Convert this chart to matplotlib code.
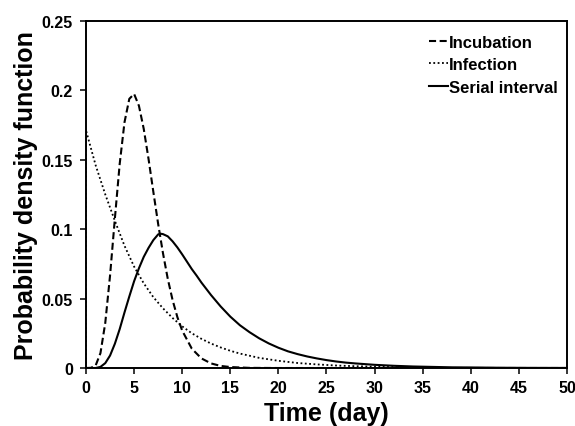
import matplotlib
matplotlib.use('Agg')
import matplotlib.pyplot as plt

plt.rcParams['font.family'] = ['Liberation Sans', 'DejaVu Sans']
plt.rcParams['font.weight'] = 'bold'

# values
incub_x = [0, 0.5, 1.0, 1.5, 2.0, 2.5, 3.0, 3.5, 4.0, 4.5, 5.0, 5.5, 6.0, 6.5, 7.0,
           7.5, 8.0, 8.5, 9.0, 9.5, 10, 11, 12, 13, 14, 15, 17, 20, 50]
incub_y = [0, 0.0001, 0.0018, 0.0107, 0.0324, 0.0667, 0.1077, 0.1469, 0.1769, 0.1938,
           0.1973, 0.1888, 0.1722, 0.1505, 0.1268, 0.1037, 0.0827, 0.0642, 0.0489,
           0.0366, 0.0269, 0.0139, 0.0069, 0.0033, 0.0015, 0.0007, 0.0001, 0, 0]

infect_x = [0, 0, 1, 2, 3, 4, 5, 6, 7, 8, 9, 10, 11, 12, 13, 14, 15, 16, 18, 20, 22,
            24, 26, 28, 30, 33]
infect_y = [0, 0.171, 0.146, 0.125, 0.106, 0.088, 0.073, 0.061, 0.051, 0.043, 0.036,
            0.030, 0.025, 0.021, 0.0176, 0.0148, 0.0124, 0.0104, 0.0073, 0.0052, 0.0036,
            0.0026, 0.0018, 0.0013, 0.0009, 0.0005]

serial_x = [0, 1.0, 1.5, 2.0, 2.5, 3.0, 3.5, 4.0, 4.5, 5.0, 5.5, 6.0, 6.5, 7.0, 7.5,
            7.75, 8.0, 8.5, 9.0, 9.5, 10, 10.5, 11, 11.5, 12, 13, 14, 15, 16, 17, 18,
            19, 20, 21, 22, 23, 24, 25, 26, 27, 28, 30, 32, 34, 36, 38, 40, 43, 46, 50]
serial_y = [0, 0, 0.0008, 0.0035, 0.009, 0.0175, 0.028, 0.040, 0.0515, 0.0625, 0.0718,
            0.0800, 0.0865, 0.0921, 0.0962, 0.0967, 0.0964, 0.0948, 0.0912, 0.0868,
            0.0818, 0.0765, 0.0712, 0.0665, 0.0615, 0.0525, 0.0443, 0.0370, 0.0308,
            0.0258, 0.0214, 0.0177, 0.0146, 0.0120, 0.0100, 0.0083, 0.0069, 0.0057,
            0.0047, 0.0039, 0.0033, 0.0023, 0.0016, 0.0011, 0.0008, 0.0005, 0.0004,
            0.0002, 0.0001, 0.00005]

fig = plt.figure(figsize=(5.75, 4.27), dpi=100)
ax = fig.add_axes([0.1496, 0.1358, 0.8364, 0.8132])

ax.plot(incub_x, incub_y, color='black', lw=1.5, ls=(0, (3.4, 1.7)), label='Incubation')
ax.plot(infect_x, infect_y, color='black', lw=1.3, ls=(0, (1, 1.4)), label='Infection')
ax.plot(serial_x, serial_y, color='black', lw=1.5, ls='-', label='Serial interval')

ax.set_xlim(0, 50)
ax.set_ylim(0, 0.25)
ax.set_xticks([0, 5, 10, 15, 20, 25, 30, 35, 40, 45, 50])
ax.set_yticks([0, 0.05, 0.1, 0.15, 0.2, 0.25])
ax.set_yticklabels(['0', '0.05', '0.1', '0.15', '0.2', '0.25'])
ax.tick_params(direction='out', length=4.3, width=1.1, labelsize=11.5)
ax.tick_params(axis='y', pad=5)
ax.tick_params(axis='x', pad=4)
for sp in ax.spines.values():
    sp.set_linewidth(1.4)

ax.set_xlabel('Time (day)', fontsize=18, fontweight='bold')
ax.set_ylabel('Probability density function', fontsize=18, fontweight='bold')
ax.xaxis.set_label_coords(0.5, -0.0945)
ax.yaxis.set_label_coords(-0.0996, 0.5)

ax.legend(loc='upper right', bbox_to_anchor=(0.981, 0.96), frameon=False,
          handlelength=1.15, handletextpad=0.05, labelspacing=0.45,
          borderpad=0, borderaxespad=0, prop={'weight': 'bold', 'size': 12})

fig.savefig('out.png', dpi=100)
